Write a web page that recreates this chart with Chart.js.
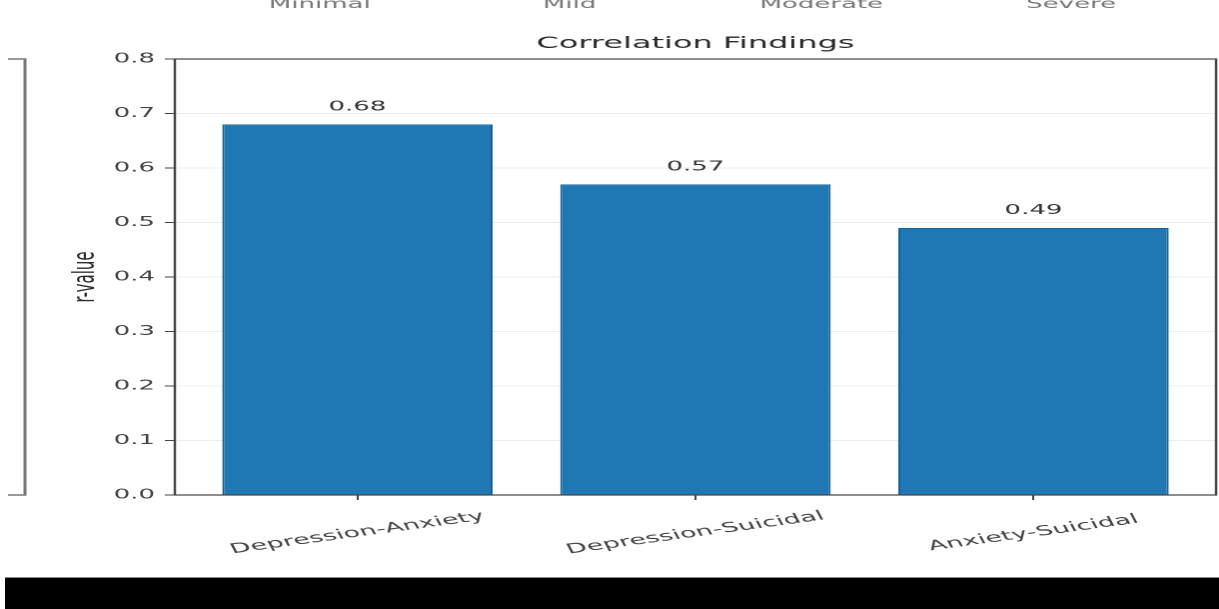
<!DOCTYPE html>
<html>
<head>
<meta charset="utf-8">
<script src="https://cdn.jsdelivr.net/npm/chart.js@4.4.1/dist/chart.umd.min.js"></script>
<style>
    html, body { margin: 0; padding: 0; background: #fff; width: 1219px; height: 609px; overflow: hidden; }
    /* the reference is stretched about 2x horizontally, so draw at half width and stretch */
    #wrap { position: absolute; left: 0; top: 0; width: 610px; height: 577px; transform: scaleX(1.9984); transform-origin: 0 0; }
    #bottomBar { position: absolute; left: 5px; top: 577px; width: 1214px; height: 32px; background: #000; border-top: 1px solid #888; box-sizing: border-box; }
</style>
</head>
<body>
<div id="wrap"><canvas id="corrChart" width="610" height="577"></canvas></div>
<div id="bottomBar"></div>
<script>
const categories = ['Depression-Anxiety', 'Depression-Suicidal', 'Anxiety-Suicidal'];
const rValues = [0.68, 0.57, 0.49];
const yTicks = [0.0, 0.1, 0.2, 0.3, 0.4, 0.5, 0.6, 0.7, 0.8];
// remnants of the chart above, cut off by the top edge
const cutLabels = ['Minimal', 'Mild', 'Moderate', 'Severe'];
const cutLabelX = [160, 285, 411, 536];

const FONT = '"DejaVu Sans", sans-serif';

const extrasPlugin = {
    id: 'extras',
    afterDraw(chart) {
        const ctx = chart.ctx;
        const area = chart.chartArea;
        const x = chart.scales.x;
        const meta = chart.getDatasetMeta(0);
        ctx.save();

        // spines
        ctx.strokeStyle = '#444';
        ctx.lineWidth = 1.2;
        ctx.strokeRect(area.left, area.top, area.right - area.left, area.bottom - area.top);

        // title, centred over the axes
        ctx.fillStyle = '#2a2a2a';
        ctx.font = '16px ' + FONT;
        ctx.textAlign = 'center';
        ctx.textBaseline = 'alphabetic';
        ctx.fillText('Correlation Findings', (area.left + area.right) / 2, 48);

        // value labels
        ctx.font = '13px ' + FONT;
        ctx.fillStyle = '#333';
        meta.data.forEach((bar, i) => {
            ctx.fillText(rValues[i].toFixed(2), bar.x, bar.y - 14);
        });

        // rotated category labels centred under the ticks
        ctx.font = '13.5px ' + FONT;
        ctx.fillStyle = '#444';
        ctx.textBaseline = 'middle';
        categories.forEach((c, i) => {
            ctx.save();
            ctx.translate(x.getPixelForValue(i), area.bottom + 38);
            ctx.rotate(-15 * Math.PI / 180);
            ctx.fillText(c, 0, 0);
            ctx.restore();
        });

        // bracket of the neighbouring panel on the left
        ctx.strokeStyle = '#777';
        ctx.lineWidth = 1.5;
        ctx.beginPath();
        ctx.moveTo(4, area.top);
        ctx.lineTo(12.5, area.top);
        ctx.lineTo(12.5, area.bottom);
        ctx.lineTo(4, area.bottom);
        ctx.stroke();

        // cut-off labels at the very top
        ctx.fillStyle = '#777';
        ctx.font = '13px ' + FONT;
        ctx.textBaseline = 'alphabetic';
        cutLabels.forEach((t, i) => {
            ctx.fillText(t, cutLabelX[i], 8);
        });
        ctx.restore();
    }
};

new Chart(document.getElementById('corrChart'), {
    type: 'bar',
    data: {
        datasets: [{
            label: 'r-value',
            data: rValues.map((v, i) => ({ x: i, y: v })),
            backgroundColor: '#1f77b4',
            borderColor: '#1a6196',
            borderWidth: 1,
            barPercentage: 0.8,
            categoryPercentage: 1.0
        }]
    },
    options: {
        responsive: false,
        animation: false,
        devicePixelRatio: 2,
        layout: {
            padding: { left: 0, right: 1.5, top: 59, bottom: 77 }
        },
        plugins: {
            legend: { display: false },
            tooltip: { enabled: false }
        },
        scales: {
            x: {
                type: 'linear',
                min: -0.54,
                max: 2.54,
                offset: false,
                afterBuildTicks: function(scale) {
                    scale.ticks = categories.map((c, i) => ({ value: i }));
                },
                ticks: { display: false },
                border: { display: false },
                grid: {
                    offset: false,
                    drawOnChartArea: false,
                    drawTicks: true,
                    tickLength: 5,
                    tickColor: '#444'
                }
            },
            y: {
                min: 0,
                max: 0.8,
                afterBuildTicks: function(scale) {
                    scale.ticks = yTicks.map(v => ({ value: v }));
                },
                afterFit: function(scale) {
                    scale.width = 87.5;
                },
                ticks: {
                    color: '#444',
                    font: { family: 'DejaVu Sans', size: 13 },
                    padding: 5,
                    callback: function(value) {
                        return Number(value).toFixed(1);
                    }
                },
                border: { display: false },
                grid: {
                    color: '#ececec',
                    tickColor: '#444',
                    tickLength: 5
                },
                title: {
                    display: true,
                    text: 'r-value',
                    color: '#2a2a2a',
                    font: { family: 'DejaVu Sans', size: 15 },
                    padding: { top: 34, bottom: 0 }
                }
            }
        }
    },
    plugins: [extrasPlugin]
});
</script>
</body>
</html>
